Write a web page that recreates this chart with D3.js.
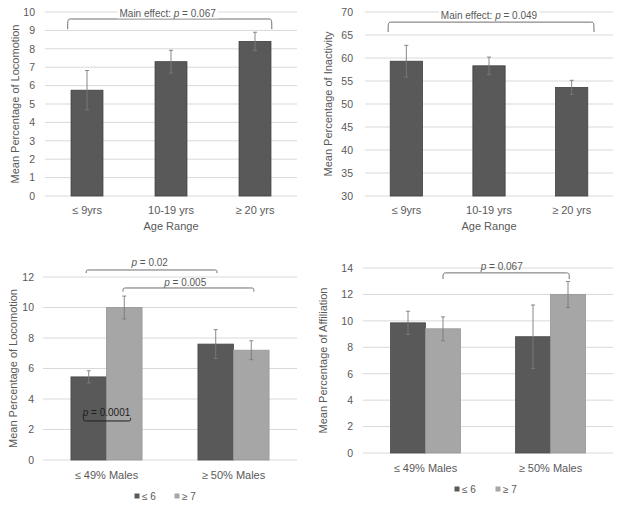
<!DOCTYPE html>
<html>
<head>
<meta charset="utf-8">
<script src="https://cdn.jsdelivr.net/npm/d3@7"></script>
<style>
  body { margin: 0; background: #fff; }
  text { font-family: "Liberation Sans", Arial, sans-serif; fill: #595959; }
</style>
</head>
<body>
<script>
"use strict";

// ---- data ----
var ageCats = ["\u2264 9yrs", "10-19 yrs", "\u2265 20 yrs"];
var locoAge = [5.75, 7.3, 8.4];
var locoAgeErr = [1.07, 0.62, 0.5];
var inactAge = [59.3, 58.3, 53.6];
var inactAgeErr = [3.45, 1.9, 1.55];

var malesCats = ["\u2264 49% Males", "\u2265 50% Males"];
var groupKeys = ["\u2264 6", "\u2265 7"];
var locoLow = [5.45, 7.6];
var locoLowErr = [0.4, 0.95];
var locoHigh = [10.0, 7.2];
var locoHighErr = [0.75, 0.62];
var affilLow = [9.85, 8.8];
var affilLowErr = [0.88, 2.4];
var affilHigh = [9.4, 12.0];
var affilHighErr = [0.9, 0.98];

var ticks1 = [0, 1, 2, 3, 4, 5, 6, 7, 8, 9, 10];
var ticks2 = [30, 35, 40, 45, 50, 55, 60, 65, 70];
var ticks3 = [0, 2, 4, 6, 8, 10, 12];
var ticks4 = [0, 2, 4, 6, 8, 10, 12, 14];

var DARK = '#595959';
var LIGHT = '#a6a6a6';
var GRID = '#d9d9d9';

var svg = d3.select("body").append("svg")
    .attr("width", 623)
    .attr("height", 508);

function drawPanel(cfg) {
  var g = svg.append('g');
  var x0 = d3.scaleBand().domain(cfg.cats).range([cfg.left, cfg.right]).padding(0);
  var y = d3.scaleLinear().domain(cfg.domain).range([cfg.bottom, cfg.top]);
  var step = x0.step();
  // fractional category position -> pixel
  function pos(i) { return cfg.left + step * (i + 0.5); }

  // gridlines
  g.selectAll('.grid').data(cfg.ticks).enter().append('line')
      .attr('x1', cfg.left).attr('x2', cfg.right)
      .attr('y1', function(d) { return y(d); })
      .attr('y2', function(d) { return y(d); })
      .attr('stroke', GRID).attr('stroke-width', 1);

  // y axis labels
  var yAxis = d3.axisLeft(y).tickValues(cfg.ticks).tickSize(0).tickPadding(cfg.tickPad);
  var ya = g.append('g').attr('transform', 'translate(' + cfg.left + ',0)').call(yAxis);
  ya.select('.domain').remove();
  ya.selectAll('text').style('font-size', '10.5px').attr('fill', DARK)
      .style('font-family', '"Liberation Sans", Arial, sans-serif');

  // bars
  var series = cfg.series;
  var groupW = step * cfg.groupFrac;
  var x1 = d3.scaleBand().domain(d3.range(series.length)).range([-groupW / 2, groupW / 2]);
  series.forEach(function(s, si) {
    var rows = cfg.cats.map(function(c, ci) { return { c: c, v: s.values[ci], e: s.err[ci] }; });
    var bg = g.append('g');
    bg.selectAll('rect').data(rows).enter().append('rect')
        .attr('x', function(d) { return x0(d.c) + step / 2 + x1(si); })
        .attr('y', function(d) { return y(d.v); })
        .attr('width', x1.bandwidth())
        .attr('height', function(d) { return y(cfg.domain[0]) - y(d.v); })
        .attr('fill', s.color)
        .attr('stroke', s.stroke)
        .attr('stroke-width', 0.8);
    // error bars
    var eb = bg.selectAll('.err').data(rows).enter().append('g');
    function cx(d) { return x0(d.c) + step / 2 + x1(si) + x1.bandwidth() / 2; }
    eb.append('line')
        .attr('x1', cx).attr('x2', cx)
        .attr('y1', function(d) { return y(d.v + d.e); })
        .attr('y2', function(d) { return y(d.v - d.e); })
        .attr('stroke', '#7a7a7a').attr('stroke-width', 0.9);
    [1, -1].forEach(function(sign) {
      eb.append('line')
          .attr('x1', function(d) { return cx(d) - 2; })
          .attr('x2', function(d) { return cx(d) + 2; })
          .attr('y1', function(d) { return y(d.v + sign * d.e); })
          .attr('y2', function(d) { return y(d.v + sign * d.e); })
          .attr('stroke', '#7a7a7a').attr('stroke-width', 0.9);
    });
  });

  // x labels
  g.selectAll('.xl').data(cfg.cats).enter().append('text')
      .attr('x', function(d) { return x0(d) + step / 2; })
      .attr('y', cfg.bottom + cfg.xLabelOff)
      .attr('text-anchor', 'middle')
      .attr('dominant-baseline', 'central')
      .style('font-size', '11px')
      .text(function(d) { return d; });

  if (cfg.xTitle) {
    g.append('text')
        .attr('x', (cfg.left + cfg.right) / 2)
        .attr('y', cfg.bottom + 30)
        .attr('text-anchor', 'middle')
        .attr('dominant-baseline', 'central')
        .style('font-size', '11px')
        .text(cfg.xTitle);
  }

  // y title
  g.append('text')
      .attr('transform', 'translate(' + cfg.yTitleX + ',' + (cfg.top + cfg.bottom) / 2 + ') rotate(-90)')
      .attr('text-anchor', 'middle')
      .attr('dominant-baseline', 'central')
      .style('font-size', '11px')
      .text(cfg.yTitle);

  // brackets + p labels
  cfg.brackets.forEach(function(b) {
    var xa = pos(b.from), xb = pos(b.to);
    var yt = y(b.yLine), ye = y(b.yEnd);
    var r = 4;
    var ink = b.onBar ? '#1e1e1e' : '#6e6e6e';
    g.append('path')
        .attr('d', 'M' + xa + ',' + ye + ' C' + xa + ',' + yt + ' ' + xa + ',' + yt + ' ' + (xa + r) + ',' + yt +
                   ' L' + (xb - r) + ',' + yt + ' C' + xb + ',' + yt + ' ' + xb + ',' + yt + ' ' + xb + ',' + ye)
        .attr('fill', 'none')
        .attr('stroke', ink)
        .attr('stroke-width', 1);
    var tx = pos(b.textAt), ty = y(b.yText);
    var t = g.append('text')
        .attr('x', tx).attr('y', ty)
        .attr('text-anchor', 'middle')
        .attr('dominant-baseline', 'central')
        .style('font-size', '10px')
        .style('fill', b.onBar ? '#1e1e1e' : DARK);
    if (b.prefix) t.append('tspan').text(b.prefix);
    t.append('tspan').style('font-style', 'italic').text('p');
    t.append('tspan').text(' = ' + b.p);
    if (b.mask) {
      var bb = t.node().getBBox();
      g.insert('rect', function() { return t.node(); })
          .attr('x', bb.x - 2).attr('y', bb.y)
          .attr('width', bb.width + 4).attr('height', bb.height)
          .attr('fill', '#fff');
    }
  });

  // legend
  if (cfg.legend) {
    var lg = g.append('g');
    series.forEach(function(s, si) {
      var lx = cfg.legendX + si * cfg.legendGap;
      lg.append('rect')
          .attr('x', lx - 2.5).attr('y', cfg.legendY - 2.5)
          .attr('width', 5).attr('height', 5)
          .attr('fill', s.color);
      lg.append('text')
          .attr('x', lx + 5).attr('y', cfg.legendY)
          .attr('dominant-baseline', 'central')
          .style('font-size', '10px')
          .text(groupKeys[si]);
    });
  }
}

// top-left: locomotion by age
drawPanel({
  cats: ageCats, domain: [0, 10], ticks: ticks1,
  left: 45, right: 297, top: 12, bottom: 196, tickPad: 10,
  groupFrac: 0.38, xLabelOff: 14, xTitle: 'Age Range',
  yTitle: 'Mean Percentage of Locomotion', yTitleX: 15,
  series: [{ values: locoAge, err: locoAgeErr, color: DARK, stroke: '#3f3f3f' }],
  brackets: [{ from: -0.23, to: 2.2, yLine: 9.62, yEnd: 9.07, textAt: 0.96, yText: 9.95,
               prefix: 'Main effect: ', p: '0.067', mask: true }]
});

// top-right: inactivity by age
drawPanel({
  cats: ageCats, domain: [30, 70], ticks: ticks2,
  left: 365, right: 613, top: 12, bottom: 196, tickPad: 12,
  groupFrac: 0.39, xLabelOff: 14, xTitle: 'Age Range',
  yTitle: 'Mean Percentage of Inactivity', yTitleX: 328,
  series: [{ values: inactAge, err: inactAgeErr, color: DARK, stroke: '#3f3f3f' }],
  brackets: [{ from: -0.22, to: 2.27, yLine: 67.8, yEnd: 65.65, textAt: 1.0, yText: 69.35,
               prefix: 'Main effect: ', p: '0.049', mask: true }]
});

// bottom-left: locomotion by sex ratio and group size
drawPanel({
  cats: malesCats, domain: [0, 12], ticks: ticks3,
  left: 43, right: 297, top: 277, bottom: 460, tickPad: 9,
  groupFrac: 0.56, xLabelOff: 15,
  yTitle: 'Mean Percentage of Locomotion', yTitleX: 13,
  series: [{ values: locoLow, err: locoLowErr, color: DARK, stroke: '#4a4a4a' },
           { values: locoHigh, err: locoHighErr, color: LIGHT, stroke: '#969696' }],
  brackets: [
    { from: -0.16, to: 0.87, yLine: 12.46, yEnd: 12.26, textAt: 0.34, yText: 12.98, p: '0.02' },
    { from: 0.13, to: 1.16, yLine: 11.28, yEnd: 11.04, textAt: 0.62, yText: 11.69, p: '0.005' },
    { from: -0.18, to: 0.19, yLine: 2.56, yEnd: 2.76, textAt: 0.0, yText: 3.17, p: '0.0001', onBar: true }
  ],
  legend: true, legendX: 137, legendGap: 40, legendY: 496
});

// bottom-right: affiliation by sex ratio and group size
drawPanel({
  cats: malesCats, domain: [0, 14], ticks: ticks4,
  left: 363, right: 613, top: 268, bottom: 453, tickPad: 10,
  groupFrac: 0.56, xLabelOff: 15,
  yTitle: 'Mean Percentage of Affiliation', yTitleX: 323,
  series: [{ values: affilLow, err: affilLowErr, color: DARK, stroke: '#4a4a4a' },
           { values: affilHigh, err: affilHighErr, color: LIGHT, stroke: '#969696' }],
  brackets: [
    { from: 0.14, to: 1.15, yLine: 13.63, yEnd: 13.17, textAt: 0.61, yText: 14.18, p: '0.067' }
  ],
  legend: true, legendX: 457, legendGap: 41, legendY: 489
});
</script>
</body>
</html>
